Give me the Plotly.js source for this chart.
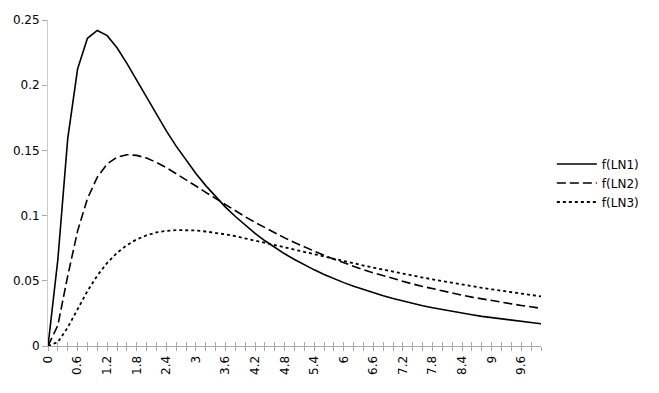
<!DOCTYPE html>
<html>
<head>
<meta charset="utf-8">
<script src="https://cdn.plot.ly/plotly-3.0.1.min.js"></script>
<style>html,body{margin:0;padding:0;background:#fff;}#chart{width:659px;height:393px;}</style>
</head>
<body>
<div id="chart"></div>
<script>
const xValues = [0,0.2,0.4,0.6,0.8,1,1.2,1.4,1.6,1.8,2,2.2,2.4,2.6,2.8,3,3.2,3.4,3.6,3.8,4,4.2,4.4,4.6,4.8,5,5.2,5.4,5.6,5.8,6,6.2,6.4,6.6,6.8,7,7.2,7.4,7.6,7.8,8,8.2,8.4,8.6,8.8,9,9.2,9.4,9.6,9.8,10];
const ln1 = [0,0.0663,0.1590,0.2124,0.2360,0.2420,0.2380,0.2287,0.2167,0.2036,0.1903,0.1773,0.1650,0.1533,0.1424,0.1323,0.1230,0.1144,0.1065,0.0993,0.0926,0.0864,0.0807,0.0755,0.0707,0.0663,0.0622,0.0584,0.0549,0.0516,0.0486,0.0458,0.0432,0.0408,0.0385,0.0364,0.0345,0.0327,0.0309,0.0294,0.0279,0.0265,0.0251,0.0239,0.0227,0.0217,0.0206,0.0197,0.0188,0.0179,0.0171];
const ln2 = [0,0.0159,0.0538,0.0881,0.1130,0.1295,0.1396,0.1448,0.1467,0.1462,0.1441,0.1408,0.1368,0.1323,0.1276,0.1227,0.1178,0.1130,0.1082,0.1036,0.0991,0.0948,0.0907,0.0867,0.0829,0.0793,0.0759,0.0726,0.0695,0.0665,0.0637,0.0611,0.0585,0.0561,0.0538,0.0516,0.0495,0.0475,0.0457,0.0439,0.0422,0.0405,0.0390,0.0375,0.0361,0.0348,0.0335,0.0323,0.0311,0.0300,0.0289];
const ln3 = [0,0.0030,0.0142,0.0284,0.0421,0.0540,0.0637,0.0714,0.0774,0.0818,0.0849,0.0871,0.0883,0.0889,0.0890,0.0886,0.0878,0.0868,0.0856,0.0842,0.0826,0.0810,0.0793,0.0775,0.0757,0.0739,0.0721,0.0703,0.0686,0.0668,0.0651,0.0634,0.0617,0.0601,0.0585,0.0569,0.0554,0.0539,0.0525,0.0511,0.0497,0.0484,0.0471,0.0459,0.0446,0.0435,0.0423,0.0412,0.0402,0.0391,0.0381];
const seriesNames = ['f(LN1)','f(LN2)','f(LN3)'];
const tickVals = [0,0.6,1.2,1.8,2.4,3,3.6,4.2,4.8,5.4,6,6.6,7.2,7.8,8.4,9,9.6];
const tickText = ['0','0.6','1.2','1.8','2.4','3','3.6','4.2','4.8','5.4','6','6.6','7.2','7.8','8.4','9','9.6'];

const styles = [
  {color:'#000', width:1.6, dash:'solid'},
  {color:'#000', width:1.6, dash:'9px,4px'},
  {color:'#000', width:1.8, dash:'3px,3px'}
];
const traces = [ln1, ln2, ln3].map((ys, i) => ({
  x: xValues, y: ys, name: seriesNames[i], type:'scatter', mode:'lines',
  line: styles[i], hoverinfo:'skip'
}));
// invisible trace to draw inside half of the crossing x ticks
traces.push({x:[0], y:[0], xaxis:'x2', yaxis:'y', mode:'markers', marker:{opacity:0}, showlegend:false, hoverinfo:'skip'});

const font = {family:'DejaVu Sans, Verdana, sans-serif', size:12, color:'#000'};
const layout = {
  width:659, height:393,
  margin:{l:48, r:118, t:20, b:47},
  paper_bgcolor:'#fff', plot_bgcolor:'#fff',
  font: font,
  showlegend:true,
  legend:{x:1.022, y:0.5, xanchor:'left', yanchor:'middle', font:{family:font.family,size:12,color:'#000'}, bgcolor:'rgba(0,0,0,0)', tracegroupgap:0, itemwidth:40},
  xaxis:{
    range:[0,10], showgrid:false, zeroline:false,
    showline:true, linecolor:'#aaa', linewidth:1,
    tickmode:'array', tickvals:tickVals, ticktext:tickText,
    tickangle:-90, ticks:'outside', ticklen:4, tickcolor:'#aaa',
    minor:{dtick:0.2, tick0:0, ticks:'outside', ticklen:4, tickcolor:'#aaa', showgrid:false},
    tickfont:{family:font.family, size:12, color:'#000'}
  },
  xaxis2:{
    overlaying:'x', matches:'x', range:[0,10], showgrid:false, zeroline:false, showline:false,
    showticklabels:false, tickmode:'linear', tick0:0, dtick:0.2, ticks:'inside', ticklen:4, tickcolor:'#aaa'
  },
  yaxis:{
    range:[0,0.25], showgrid:false, zeroline:false,
    showline:true, linecolor:'#ccc', linewidth:1,
    tickmode:'linear', tick0:0, dtick:0.05,
    ticks:'outside', ticklen:5, tickcolor:'#aaa',
    tickfont:{family:font.family, size:12, color:'#000'}
  }
};
Plotly.newPlot('chart', traces, layout, {staticPlot:true, displayModeBar:false});
</script>
</body>
</html>
